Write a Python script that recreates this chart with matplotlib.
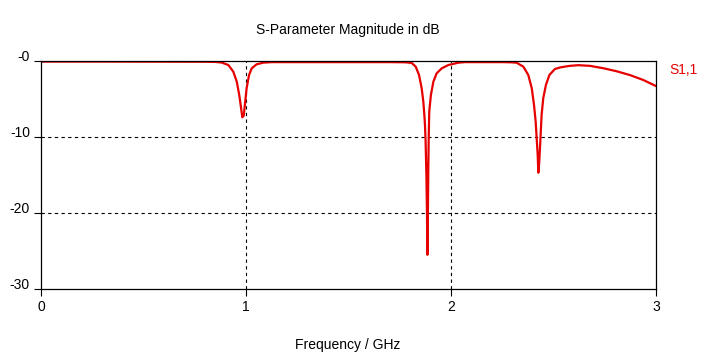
import matplotlib
matplotlib.use("Agg")
import matplotlib.pyplot as plt

plt.rcParams['font.family'] = ['Liberation Sans', 'DejaVu Sans']

# --- S11 trace (GHz, dB) ---
freq_ghz = [0.0, 0.3, 0.6, 0.8, 0.849, 0.881, 0.914, 0.938, 0.955, 0.967, 0.976, 0.982,
            0.989, 0.995, 1.003, 1.015, 1.028, 1.052, 1.084, 1.125, 1.3, 1.5, 1.7, 1.776,
            1.808, 1.828, 1.844, 1.857, 1.865, 1.870, 1.873, 1.876, 1.880, 1.883, 1.885,
            1.887, 1.889, 1.891, 1.894, 1.902, 1.914, 1.930, 1.955, 1.987, 2.036, 2.068,
            2.15, 2.25, 2.288, 2.320, 2.353, 2.377, 2.394, 2.405, 2.413, 2.418, 2.423, 2.426,
            2.430, 2.434, 2.438, 2.442, 2.450, 2.463, 2.480, 2.507, 2.532, 2.560, 2.580,
            2.621, 2.678, 2.743, 2.808, 2.873, 2.938, 3.0]
s11_db = [-0.08, -0.08, -0.09, -0.1, -0.12, -0.2, -0.53, -1.4, -2.72, -4.47, -6.18, -7.4,
          -7.2, -5.66, -3.59, -1.84, -0.96, -0.43, -0.22, -0.15, -0.15, -0.15, -0.15, -0.17,
          -0.25, -0.75, -1.84, -3.59, -5.35, -7.1, -8.4, -10.5, -15.0, -20.5, -25.5,
          -21.0, -15.0, -10.5, -6.6, -4.47, -2.72, -1.62, -0.96, -0.53, -0.22, -0.15,
          -0.15, -0.15, -0.17, -0.22, -0.75, -1.84, -3.59, -5.79, -7.99, -10.2, -12.4, -14.7,
          -13.5, -11.5, -9.3, -7.1, -4.9, -3.16, -1.84, -1.05, -0.85, -0.72, -0.64,
          -0.55, -0.64, -0.95, -1.35, -1.85, -2.5, -3.3]

x_ticks = [0, 1, 2, 3]
y_ticks = [0, -10, -20, -30]
y_tick_labels = ['-0', '-10', '-20', '-30']

red = '#e60000'

fig = plt.figure(figsize=(7.2, 3.6), dpi=100)
ax = fig.add_axes([41 / 720, 1 - 289 / 360, 615 / 720, 228 / 360])

ax.plot(freq_ghz, s11_db, color=red, linewidth=1.6, solid_joinstyle='round')

ax.set_xlim(0, 3)
ax.set_ylim(-30, 0)
ax.set_xticks(x_ticks)
ax.set_xticklabels([str(t) for t in x_ticks], fontsize=10)
ax.set_yticks(y_ticks)
ax.set_yticklabels(y_tick_labels, fontsize=10, va='baseline')

# dashed grid only inside the box
for gx in [1, 2]:
    ax.axvline(gx, color='black', linewidth=0.8, linestyle=(0, (3, 3)), zorder=0)
for gy in [-10, -20]:
    ax.axhline(gy, color='black', linewidth=0.8, linestyle=(0, (3, 3)), zorder=0)

ax.tick_params(direction='out', length=5, width=0.8, color='black', pad=3)
for sp in ax.spines.values():
    sp.set_linewidth(0.9)
    sp.set_color('black')

fig.text(348 / 720, 1 - 30 / 360, 'S-Parameter Magnitude in dB', ha='center', va='center', fontsize=10)
fig.text(348 / 720, 1 - 345 / 360, 'Frequency / GHz', ha='center', va='center', fontsize=10)
fig.text(669 / 720, 1 - 70 / 360, 'S1,1', ha='left', va='center', fontsize=10, color=red)

fig.savefig('out.png', dpi=100, facecolor='white')
